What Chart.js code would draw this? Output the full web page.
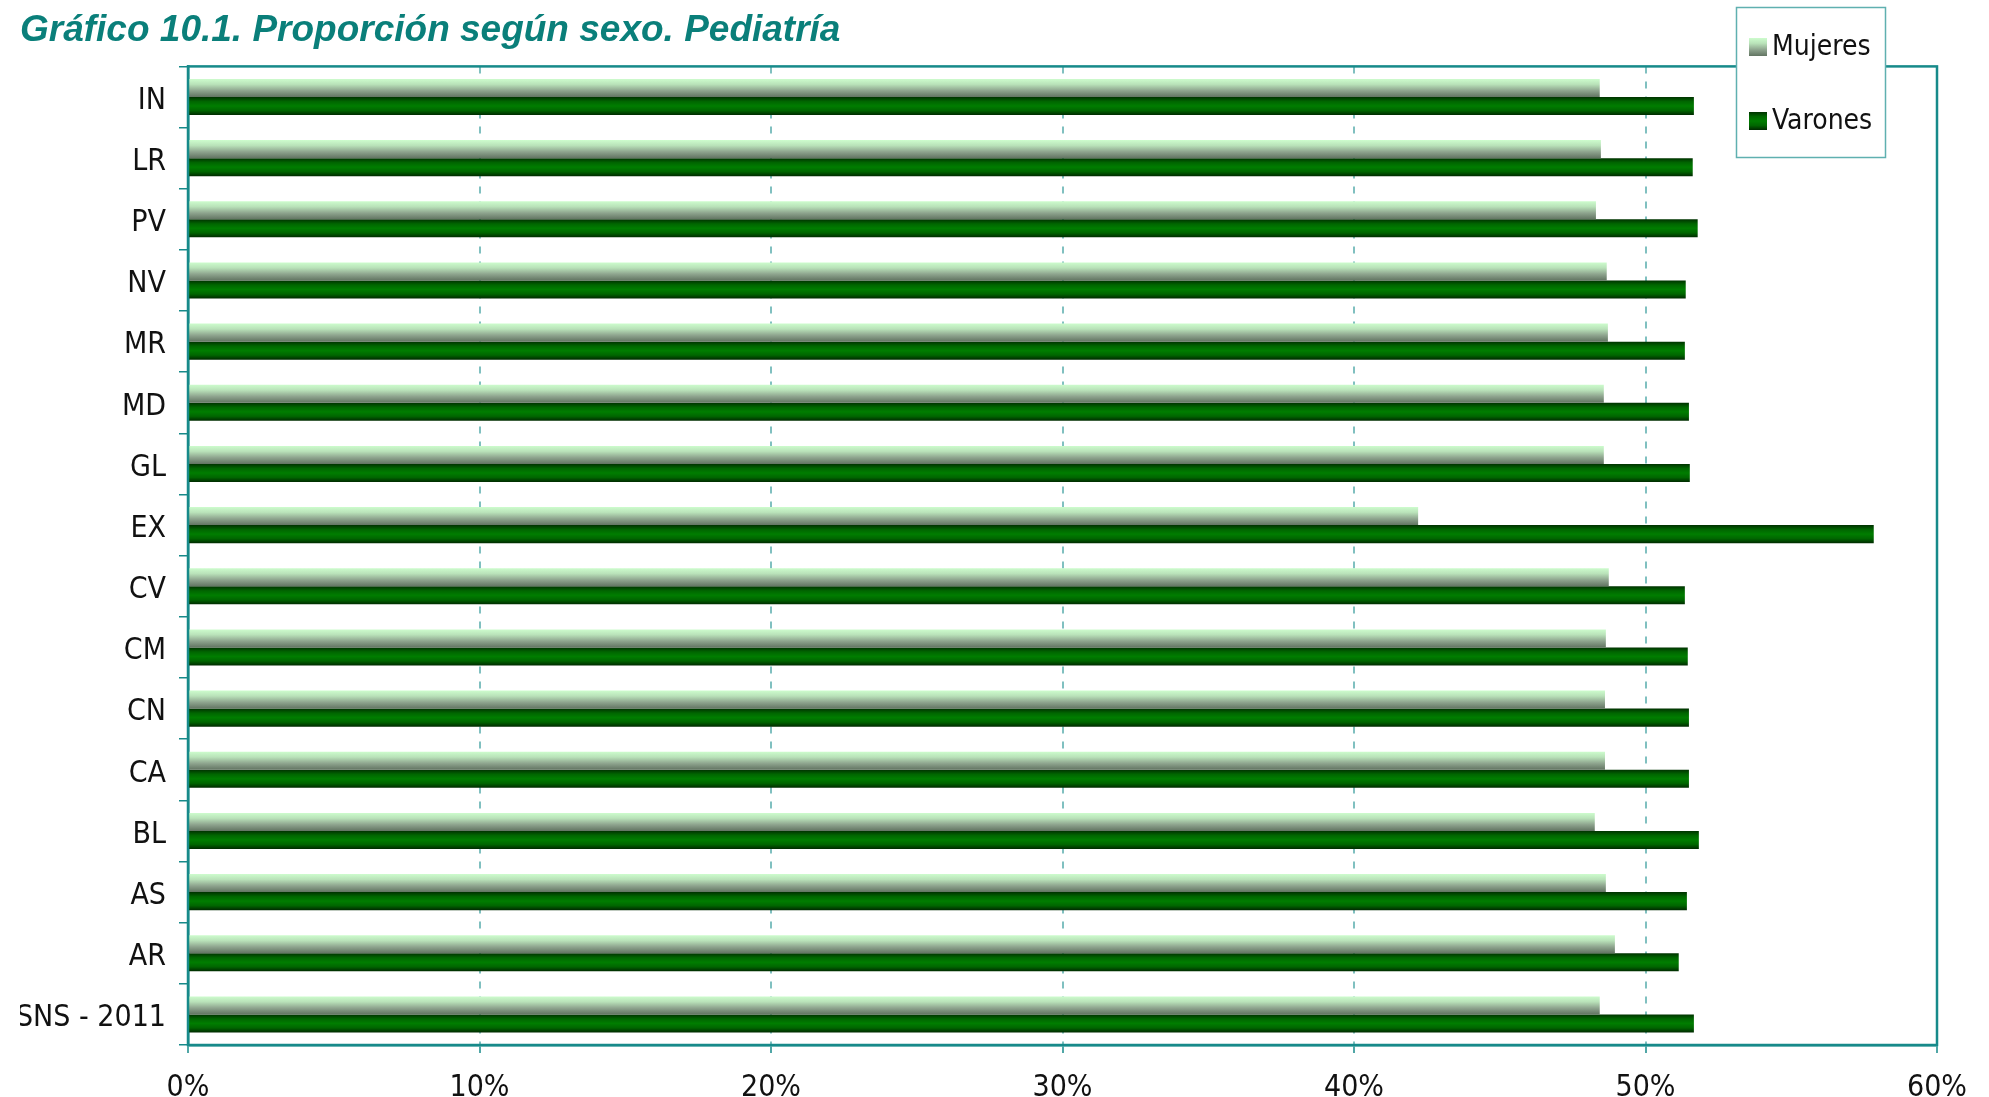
<!DOCTYPE html>
<html>
<head>
<meta charset="utf-8">
<title>Gráfico 10.1. Proporción según sexo. Pediatría</title>
<script src="https://cdn.jsdelivr.net/npm/chart.js@4.4.1/dist/chart.umd.min.js"></script>
<style>
    html, body { margin: 0; padding: 0; background: #fff; }
    #wrap { position: relative; width: 1989px; height: 1097px; }
</style>
</head>
<body>
<div id="wrap"><canvas id="chart-sexo"></canvas></div>
<script>
// datos
var categorias = ['IN', 'LR', 'PV', 'NV', 'MR', 'MD', 'GL', 'EX', 'CV', 'CM', 'CN', 'CA', 'BL', 'AS', 'AR', 'SNS - 2011'];
var mujeres = [48.43, 48.47, 48.30, 48.67, 48.71, 48.57, 48.57, 42.20, 48.74, 48.64, 48.61, 48.61, 48.26, 48.64, 48.95, 48.43];
var varones = [51.66, 51.62, 51.79, 51.38, 51.35, 51.49, 51.52, 57.83, 51.35, 51.45, 51.49, 51.49, 51.83, 51.42, 51.14, 51.66];
var ticksX = [0, 10, 20, 30, 40, 50, 60];

(function() {
    "use strict";

    var teal = '#178a8a';
    var fuente = '"DejaVu Sans Condensed", "DejaVu Sans", sans-serif';
    var catPct = 0.59;

    var stopsMujeres = [[0, '#cdfccd'], [0.3, '#b9e2b9'], [0.65, '#8ea48e'], [1, '#627462']];
    var stopsVarones = [[0, '#003200'], [0.25, '#006600'], [0.5, '#007d00'], [0.75, '#006600'], [1, '#002a00']];

    function gradiente(ctx, top, bottom, stops) {
        var g = ctx.createLinearGradient(0, top, 0, bottom);
        stops.forEach(function(s) { g.addColorStop(s[0], s[1]); });
        return g;
    }

    // relleno de cada barra, calculado desde la escala Y
    function relleno(stops) {
        var plano = stops[Math.floor(stops.length / 2)][1];
        return function(c) {
            var chart = c.chart;
            var y = chart.scales.y;
            if (!y || c.dataIndex === undefined) return plano;
            var center = y.getPixelForValue(c.dataIndex);
            var band = Math.abs(y.getPixelForValue(1) - y.getPixelForValue(0));
            var h = band * catPct / 2;
            var top = c.datasetIndex === 0 ? center - h : center;
            if (!isFinite(top) || !isFinite(h) || h <= 0) return plano;
            return gradiente(chart.ctx, top, top + h, stops);
        };
    }

    // marco del área de trazado
    var marco = {
        id: 'marco',
        afterDatasetsDraw: function(chart) {
            var a = chart.chartArea, ctx = chart.ctx;
            ctx.save();
            ctx.strokeStyle = teal;
            ctx.lineWidth = 2.5;
            ctx.strokeRect(a.left, a.top, a.right - a.left, a.bottom - a.top);
            ctx.restore();
        }
    };

    // leyenda en recuadro arriba a la derecha
    var leyenda = {
        id: 'leyenda',
        afterDraw: function(chart) {
            var ctx = chart.ctx;
            var bx = 1736, by = 7, bw = 149, bh = 150;
            ctx.save();
            ctx.fillStyle = '#fff';
            ctx.fillRect(bx, by, bw, bh);
            ctx.strokeStyle = '#5fb0b0';
            ctx.lineWidth = 1.5;
            ctx.strokeRect(bx + 0.5, by + 0.5, bw, bh);
            ctx.font = '28px ' + fuente;
            ctx.textBaseline = 'middle';
            ctx.textAlign = 'left';
            chart.data.datasets.forEach(function(ds, i) {
                var sy = 38 + i * 74;
                ctx.fillStyle = gradiente(ctx, sy, sy + 18, ds.stops);
                ctx.fillRect(1749, sy, 18, 18);
                ctx.fillStyle = '#111';
                ctx.fillText(ds.label, 1772, sy + 10);
            });
            ctx.restore();
        }
    };

    var canvas = document.getElementById('chart-sexo').getContext('2d');

    new Chart(canvas, {
        type: 'bar',
        data: {
            labels: categorias,
            datasets: [{
                label: 'Mujeres',
                data: mujeres,
                stops: stopsMujeres,
                backgroundColor: relleno(stopsMujeres),
                borderWidth: 0,
                categoryPercentage: catPct,
                barPercentage: 1
            }, {
                label: 'Varones',
                data: varones,
                stops: stopsVarones,
                backgroundColor: relleno(stopsVarones),
                borderWidth: 0,
                categoryPercentage: catPct,
                barPercentage: 1
            }]
        },
        options: {
            indexAxis: 'y',
            responsive: true,
            maintainAspectRatio: false,
            animation: false,
            layout: { padding: { left: 20, right: 52, top: 0, bottom: 0 } },
            plugins: {
                legend: { display: false },
                tooltip: { enabled: false },
                title: {
                    display: true,
                    text: 'Gráfico 10.1. Proporción según sexo. Pediatría',
                    align: 'start',
                    color: '#0a7f7a',
                    font: { family: '"Liberation Sans", Arial, sans-serif', size: 37, weight: 'bold', style: 'italic' },
                    padding: { top: 9, bottom: 13 }
                }
            },
            scales: {
                x: {
                    min: 0,
                    max: 60,
                    afterBuildTicks: function(s) {
                        s.ticks = ticksX.map(function(v) { return { value: v }; });
                    },
                    afterFit: function(s) { s.height = 52; },
                    ticks: {
                        color: '#111',
                        padding: 17,
                        maxRotation: 0,
                        font: { family: fuente, size: 30 },
                        callback: function(v) { return v + '%'; }
                    },
                    grid: {
                        color: '#80c0c0',
                        lineWidth: 2,
                        drawTicks: true,
                        tickLength: 8,
                        tickColor: teal,
                        tickWidth: 1.5
                    },
                    border: { display: true, color: teal, width: 2.5, dash: [7, 8] }
                },
                y: {
                    afterFit: function(s) { s.width = 168; },
                    ticks: {
                        color: '#111',
                        padding: 13,
                        labelOffset: 4,
                        font: { family: fuente, size: 30 }
                    },
                    grid: {
                        offset: true,
                        drawOnChartArea: false,
                        drawTicks: true,
                        tickLength: 9,
                        color: teal,
                        lineWidth: 1.5
                    },
                    border: { display: true, color: teal, width: 2.5 }
                }
            }
        },
        plugins: [marco, leyenda]
    });
})();
</script>
</body>
</html>
